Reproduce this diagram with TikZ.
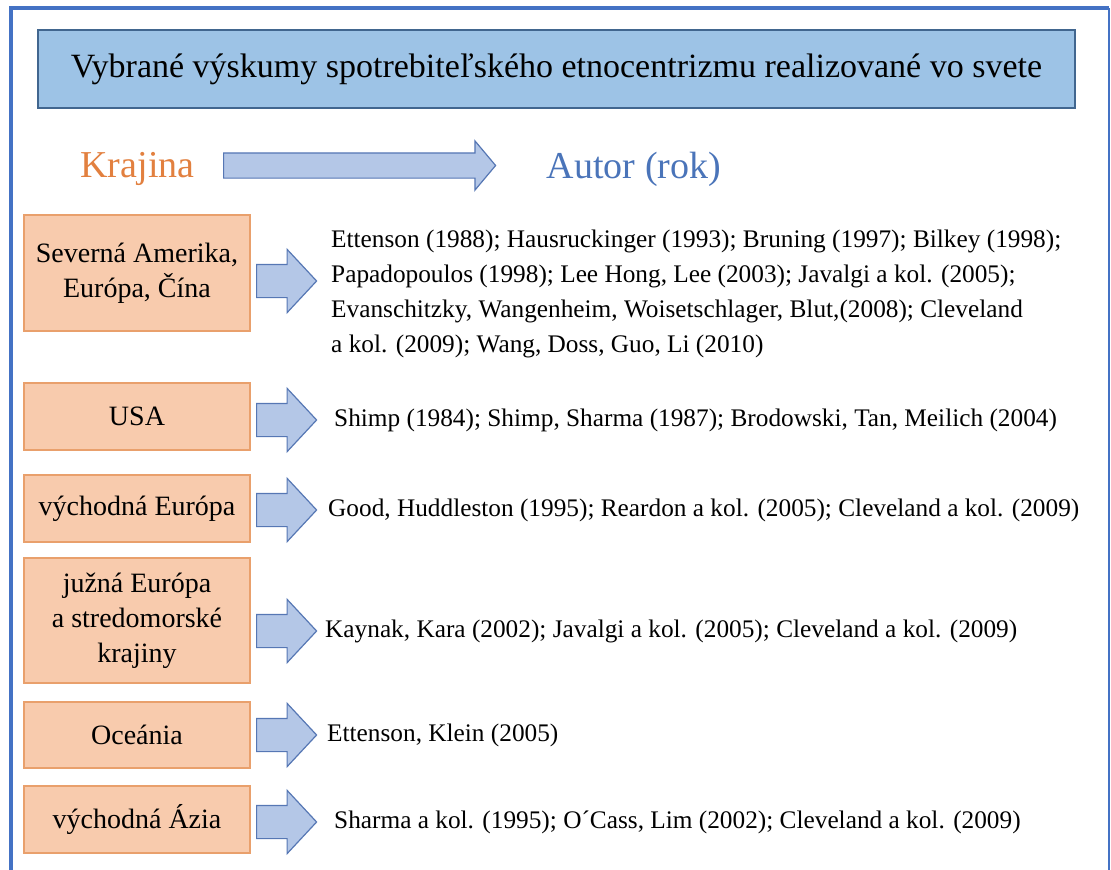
\documentclass[tikz,border=0pt]{standalone}
\usepackage{fontspec}
\setmainfont{Liberation Serif}
\usepackage{tikz}
\usetikzlibrary{positioning,shapes.arrows}
\definecolor{frameblue}{HTML}{4472C4}
\definecolor{titlefill}{HTML}{9DC3E6}
\definecolor{titleline}{HTML}{41668F}
\definecolor{arrfill}{HTML}{B4C7E7}
\definecolor{arrline}{HTML}{5677B4}
\definecolor{krfill}{HTML}{F8CBAD}
\definecolor{krline}{HTML}{E9A06C}
\definecolor{krorange}{HTML}{E2803F}
\definecolor{autblue}{HTML}{4A74B9}
\tikzset{
  ec frame/.style={draw=frameblue},
  ec title/.style={draw=titleline, fill=titlefill, line width=1.2pt, inner sep=0pt,
                   font=\fontsize{34}{40}\selectfont},
  ec head/.style={font=\fontsize{38}{44}\selectfont, inner sep=0pt, anchor=base},
  ec box/.style={draw=krline, fill=krfill, line width=1.2pt, align=center, inner sep=0pt,
                 font=\fontsize{28}{35}\selectfont},
  ec cite/.style={font=\fontsize{25.3}{35}\selectfont, align=left, inner sep=0pt},
  ec arr/.style={single arrow, draw=arrline, fill=arrfill, line width=1.2pt, inner sep=16pt,
                 minimum height=60pt, minimum width=62pt, single arrow head extend=15pt,
                 single arrow tip angle=94, anchor=tail},
  ec big/.style={single arrow, draw=arrline, fill=arrfill, line width=1.2pt, inner sep=12pt,
                 minimum width=48pt, single arrow head extend=12pt, single arrow tip angle=100,
                 anchor=tail},
}
\begin{document}
\begin{tikzpicture}[x=1pt, y=-1pt,
  kraj/.style={ec box, minimum width=226pt},
  cite/.style={ec cite, anchor=west}]
  \useasboundingbox (0,0) rectangle (1111,870);
  % frame of the slide
  \draw[ec frame, line width=4pt] (10.5,870) -- (10.5,8) -- (1109,8);
  \draw[ec frame, line width=1.5pt] (1109,8) -- (1109,870);
  % title
  \node[ec title, minimum width=1037pt, minimum height=78pt] (title) at (556.5,69)
     {Vybrané výskumy spotrebiteľského etnocentrizmu realizované vo svete};
  % header row
  \node[ec head, text=krorange] (krajina) at (137.5,177) {Krajina};
  \node[ec big, minimum height=272pt] (bigarr) at (223,165.5) {};
  \node[ec head, text=autblue] (autor) at (634,178) {Autor (rok)};
  % countries
  \node[kraj, minimum height=116pt] (sa)  at (137,273)   {Severná Amerika,\\ Európa, Čína};
  \node[kraj, minimum height=67pt]  (usa) at (137,416.5) {USA};
  \node[kraj, minimum height=67pt]  (ve)  at (137,508.5) {východná Európa};
  \node[kraj, minimum height=125pt] (je)  at (137,620.5) {južná Európa\\ a stredomorské\\ krajiny};
  \node[kraj, minimum height=66pt]  (oc)  at (137,735)   {Oceánia};
  \node[kraj, minimum height=67pt]  (va)  at (137,819.5) {východná Ázia};
  % block arrows between country and authors
  \foreach \n/\y in {sa/281, usa/420, ve/510, je/631, oc/735, va/822}
    \node[ec arr] (arr-\n) at (256,\y) {};
  % authors (year)
  \node[cite] (c-sa)  at (331,294)
     {Ettenson (1988); Hausruckinger (1993); Bruning (1997); Bilkey (1998);\\
      Papadopoulos (1998); Lee Hong, Lee (2003); Javalgi a kol. (2005);\\
      Evanschitzky, Wangenheim, Woisetschlager, Blut,(2008); Cleveland\\
      a kol. (2009); Wang, Doss, Guo, Li (2010)};
  \node[cite] (c-usa) at (334,420) {Shimp (1984); Shimp, Sharma (1987); Brodowski, Tan, Meilich (2004)};
  \node[cite] (c-ve)  at (328,510) {Good, Huddleston (1995); Reardon a kol. (2005); Cleveland a kol. (2009)};
  \node[cite] (c-je)  at (325,631) {Kaynak, Kara (2002); Javalgi a kol. (2005); Cleveland a kol. (2009)};
  \node[cite] (c-oc)  at (327,735) {Ettenson, Klein (2005)};
  \node[cite] (c-va)  at (334,822) {Sharma a kol. (1995); O´Cass, Lim (2002); Cleveland a kol. (2009)};
\end{tikzpicture}
\end{document}
